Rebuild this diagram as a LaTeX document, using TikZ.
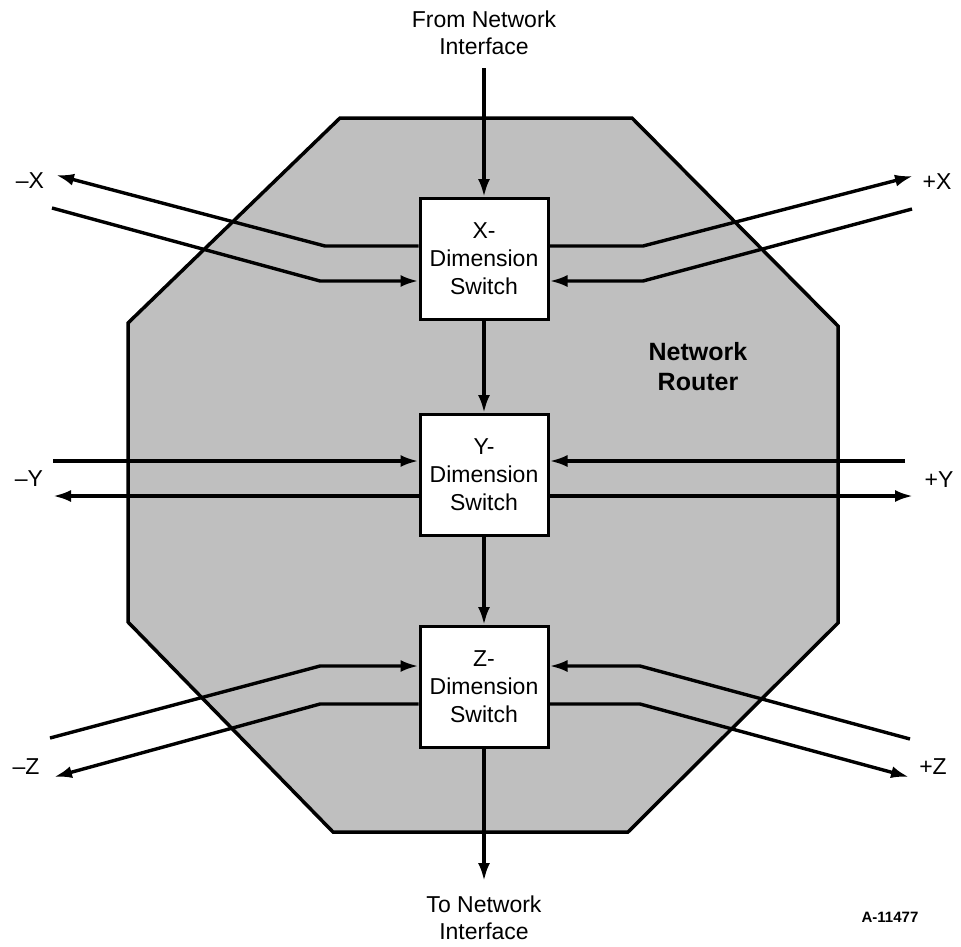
\documentclass[tikz,border=0pt]{standalone}
\usepackage{fontspec}
\setmainfont{Liberation Sans}
\usetikzlibrary{arrows.meta,calc}
\begin{document}
\begin{tikzpicture}[x=1pt,y=-1pt,
  wire/.style={line width=3.4pt},
  flow/.style={wire,-{Latex[length=18pt,width=12pt]}},
  switchbox/.style={draw,line width=3pt,fill=white,minimum width=128pt,minimum height=121pt,
    inner sep=0pt,align=center,font=\fontsize{23}{28}\selectfont},
  lbl/.style={font=\fontsize{23}{27}\selectfont,align=center,inner sep=0pt},
  routerfill/.style={fill=black!25},
]
\useasboundingbox (0,0) rectangle (961,946);

% router body
\path[routerfill] (340,118) -- (632,118) -- (838,326) -- (838,623) -- (628,832)
  -- (333,832) -- (128,622) -- (128,323) -- cycle;
\draw[line width=3.5pt,line join=miter] (340,118) -- (632,118) -- (838,326) -- (838,623)
  -- (628,832) -- (333,832) -- (128,622) -- (128,323) -- cycle;

\node[lbl,font=\bfseries\fontsize{25}{30}\selectfont] (router) at (698,367) {Network\\Router};

% switches
\node[switchbox] (xs) at (484,259) {X-\\Dimension\\Switch};
\node[switchbox] (ys) at (484,475) {Y-\\Dimension\\Switch};
\node[switchbox] (zs) at (484,687) {Z-\\Dimension\\Switch};

% interface labels
\node[lbl] (from) at (484,33) {From Network\\Interface};
\node[lbl] (to) at (484,918) {To Network\\Interface};
\node[lbl,font=\bfseries\fontsize{15}{18}\selectfont] (fig) at (890,917) {A-11477};

% port labels
\node[lbl] (mx) at (30,181) {–X};
\node[lbl] (px) at (937,182) {+X};
\node[lbl] (my) at (29,479) {–Y};
\node[lbl] (py) at (939,480) {+Y};
\node[lbl] (mz) at (26,767) {–Z};
\node[lbl] (pz) at (933,767) {+Z};

% free ends of the links
\coordinate (in0) at (484,68);
\coordinate (out0) at (484,881);
\coordinate (mxo) at (56,175);
\coordinate (mxi) at (52,208);
\coordinate (pxo) at (913,176);
\coordinate (pxi) at (912,209);
\coordinate (myi) at (53,461);
\coordinate (myo) at (53,496);
\coordinate (pyi) at (905,461);
\coordinate (pyo) at (913,496);
\coordinate (mzi) at (50,738);
\coordinate (mzo) at (54,777);
\coordinate (pzi) at (910,739);
\coordinate (pzo) at (909,777);

% main path through the router
\draw[flow] (in0) -- (xs.north);
\draw[flow] (xs.south) -- (ys.north);
\draw[flow] (ys.south) -- (zs.north);
\draw[flow] (zs.south) -- (out0);

% X links
\draw[flow] ($(xs.west)+(0,-13)$) -- (325,246) -- (mxo);
\draw[flow] (mxi) -- (320,281) -- ($(xs.west)+(0,22)$);
\draw[flow] ($(xs.east)+(0,-13)$) -- (643,246) -- (pxo);
\draw[flow] (pxi) -- (643,281) -- ($(xs.east)+(0,22)$);

% Y links
\draw[flow] (myi) -- ($(ys.west)+(0,-14)$);
\draw[flow] ($(ys.west)+(0,21)$) -- (myo);
\draw[flow] (pyi) -- ($(ys.east)+(0,-14)$);
\draw[flow] ($(ys.east)+(0,21)$) -- (pyo);

% Z links
\draw[flow] (mzi) -- (320,666) -- ($(zs.west)+(0,-21)$);
\draw[flow] ($(zs.west)+(0,17)$) -- (320,704) -- (mzo);
\draw[flow] (pzi) -- (640,666) -- ($(zs.east)+(0,-21)$);
\draw[flow] ($(zs.east)+(0,17)$) -- (640,704) -- (pzo);
\end{tikzpicture}
\end{document}
